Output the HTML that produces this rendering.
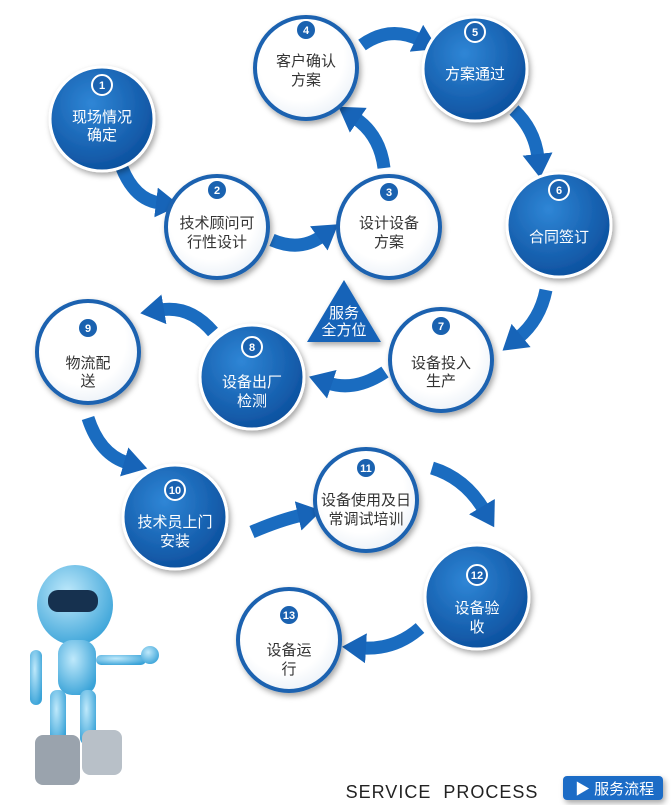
<!DOCTYPE html>
<html><head><meta charset="utf-8"><style>
body{margin:0;background:#fff;width:671px;height:810px;overflow:hidden}
svg{display:block}
.t{font-family:"Liberation Sans","Noto Sans CJK SC",sans-serif;font-size:15px;text-anchor:middle}
</style></head><body>
<svg width="671" height="810" viewBox="0 0 671 810">
<defs>
<radialGradient id="bg" cx="40%" cy="35%" r="70%"><stop offset="0" stop-color="#2f86d6"/><stop offset="1" stop-color="#0b4e9c"/></radialGradient>
<radialGradient id="wg" cx="45%" cy="40%" r="70%"><stop offset="0.6" stop-color="#fff"/><stop offset="1" stop-color="#e4ecf5"/></radialGradient>
<radialGradient id="rb" cx="40%" cy="35%" r="70%"><stop offset="0" stop-color="#bfe9fb"/><stop offset="1" stop-color="#3aa3d8"/></radialGradient>
<marker id="ah" markerUnits="userSpaceOnUse" markerWidth="26" markerHeight="30" refX="4" refY="15" orient="auto"><path d="M0,0 L24,15 L0,30 Z" fill="#1764b8"/></marker>
<filter id="sh" x="-20%" y="-20%" width="140%" height="140%"><feDropShadow dx="2" dy="3" stdDeviation="3" flood-color="#000" flood-opacity="0.35"/></filter>
</defs>
<g fill="none" stroke="#1a6cc0" stroke-width="13" marker-end="url(#ah)">
<path d="M122,168 Q135,200 160,203"/>
<path d="M272,240 Q300,252 322,236"/>
<path d="M384,168 Q380,135 355,118"/>
<path d="M362,45 Q390,25 420,40"/>
<path d="M514,110 Q535,130 538,158"/>
<path d="M546,290 Q540,320 518,338"/>
<path d="M385,372 Q355,392 328,383"/>
<path d="M213,332 Q190,305 160,310"/>
<path d="M88,418 Q100,455 128,463"/>
<path d="M252,532 Q280,520 302,515"/>
<path d="M432,468 Q465,478 484,510"/>
<path d="M420,628 Q395,650 362,648"/>
</g>
<polygon points="344,280 307,342 381,342" fill="#1764b8" filter="url(#sh)"/>
<text class="t" x="344" y="318" fill="#fff" font-size="14">服务</text>
<text class="t" x="344" y="335" fill="#fff" font-size="14">全方位</text>
<g filter="url(#sh)">
<circle cx="102" cy="119" r="52" fill="url(#bg)" stroke="#fff" stroke-width="3"/>
<circle cx="217" cy="227" r="51" fill="url(#wg)" stroke="#1a62b0" stroke-width="4"/>
<circle cx="389" cy="227" r="51" fill="url(#wg)" stroke="#1a62b0" stroke-width="4"/>
<circle cx="306" cy="68" r="51" fill="url(#wg)" stroke="#1a62b0" stroke-width="4"/>
<circle cx="475" cy="69" r="52" fill="url(#bg)" stroke="#fff" stroke-width="3"/>
<circle cx="559" cy="225" r="52" fill="url(#bg)" stroke="#fff" stroke-width="3"/>
<circle cx="441" cy="360" r="51" fill="url(#wg)" stroke="#1a62b0" stroke-width="4"/>
<circle cx="252" cy="377" r="52" fill="url(#bg)" stroke="#fff" stroke-width="3"/>
<circle cx="88" cy="352" r="51" fill="url(#wg)" stroke="#1a62b0" stroke-width="4"/>
<circle cx="175" cy="517" r="52" fill="url(#bg)" stroke="#fff" stroke-width="3"/>
<circle cx="366" cy="500" r="51" fill="url(#wg)" stroke="#1a62b0" stroke-width="4"/>
<circle cx="477" cy="597" r="52" fill="url(#bg)" stroke="#fff" stroke-width="3"/>
<circle cx="289" cy="640" r="51" fill="url(#wg)" stroke="#1a62b0" stroke-width="4"/>
</g>
<g font-family="Liberation Sans,sans-serif" font-size="11" font-weight="bold" text-anchor="middle">
<g fill="#1a62b0" stroke="#fff" stroke-width="2">
<circle cx="102" cy="85" r="10"/><circle cx="475" cy="32" r="10"/><circle cx="559" cy="190" r="10"/><circle cx="252" cy="347" r="10"/><circle cx="175" cy="490" r="10"/><circle cx="477" cy="575" r="10"/>
<circle cx="217" cy="190" r="10"/><circle cx="389" cy="192" r="10"/><circle cx="306" cy="30" r="10"/><circle cx="441" cy="326" r="10"/><circle cx="88" cy="328" r="10"/><circle cx="366" cy="468" r="10"/><circle cx="289" cy="615" r="10"/>
</g>
<g fill="#fff">
<text x="102" y="89">1</text><text x="475" y="36">5</text><text x="559" y="194">6</text><text x="252" y="351">8</text><text x="175" y="494">10</text><text x="477" y="579">12</text>
<text x="217" y="194">2</text><text x="389" y="196">3</text><text x="306" y="34">4</text><text x="441" y="330">7</text><text x="88" y="332">9</text><text x="366" y="472">11</text><text x="289" y="619">13</text>
</g></g>
<g class="t">
<g fill="#fff">
<text class="t" x="102" y="122">现场情况</text><text class="t" x="102" y="140">确定</text>
<text class="t" x="475" y="79">方案通过</text>
<text class="t" x="559" y="242">合同签订</text>
<text class="t" x="252" y="387">设备出厂</text><text class="t" x="252" y="406">检测</text>
<text class="t" x="175" y="527">技术员上门</text><text class="t" x="175" y="546">安装</text>
<text class="t" x="477" y="613">设备验</text><text class="t" x="477" y="632">收</text>
</g>
<g fill="#333">
<text class="t" x="217" y="228">技术顾问可</text><text class="t" x="217" y="247">行性设计</text>
<text class="t" x="389" y="228">设计设备</text><text class="t" x="389" y="247">方案</text>
<text class="t" x="306" y="66">客户确认</text><text class="t" x="306" y="85">方案</text>
<text class="t" x="441" y="368">设备投入</text><text class="t" x="441" y="386">生产</text>
<text class="t" x="88" y="368">物流配</text><text class="t" x="88" y="386">送</text>
<text class="t" x="366" y="505">设备使用及日</text><text class="t" x="366" y="524">常调试培训</text>
<text class="t" x="289" y="655">设备运</text><text class="t" x="289" y="674">行</text>
</g></g>
<!-- robot -->
<g>
<ellipse cx="75" cy="605" rx="38" ry="40" fill="url(#rb)"/>
<rect x="48" y="590" width="50" height="22" rx="10" fill="#16314f"/>
<rect x="58" y="640" width="38" height="55" rx="14" fill="url(#rb)"/>
<rect x="96" y="655" width="50" height="10" rx="5" fill="url(#rb)"/>
<circle cx="150" cy="655" r="9" fill="url(#rb)"/>
<rect x="30" y="650" width="12" height="55" rx="6" fill="url(#rb)"/>
<rect x="50" y="690" width="16" height="55" rx="7" fill="url(#rb)"/>
<rect x="80" y="690" width="16" height="55" rx="7" fill="url(#rb)"/>
<rect x="35" y="735" width="45" height="50" rx="8" fill="#9aa3ad"/>
<rect x="82" y="730" width="40" height="45" rx="8" fill="#b8c0c8"/>
</g>
<text x="442" y="798" font-family="Liberation Sans,sans-serif" font-size="18" fill="#222" text-anchor="middle" letter-spacing="1">SERVICE&#160;&#160;PROCESS</text>
<rect x="563" y="776" width="100" height="24" rx="4" fill="#1d6cc6" filter="url(#sh)"/>
<text x="575" y="794" font-family="Liberation Sans,'Noto Sans CJK SC',sans-serif" font-size="15" fill="#fff">▶ 服务流程</text>
</svg>
</body></html>
